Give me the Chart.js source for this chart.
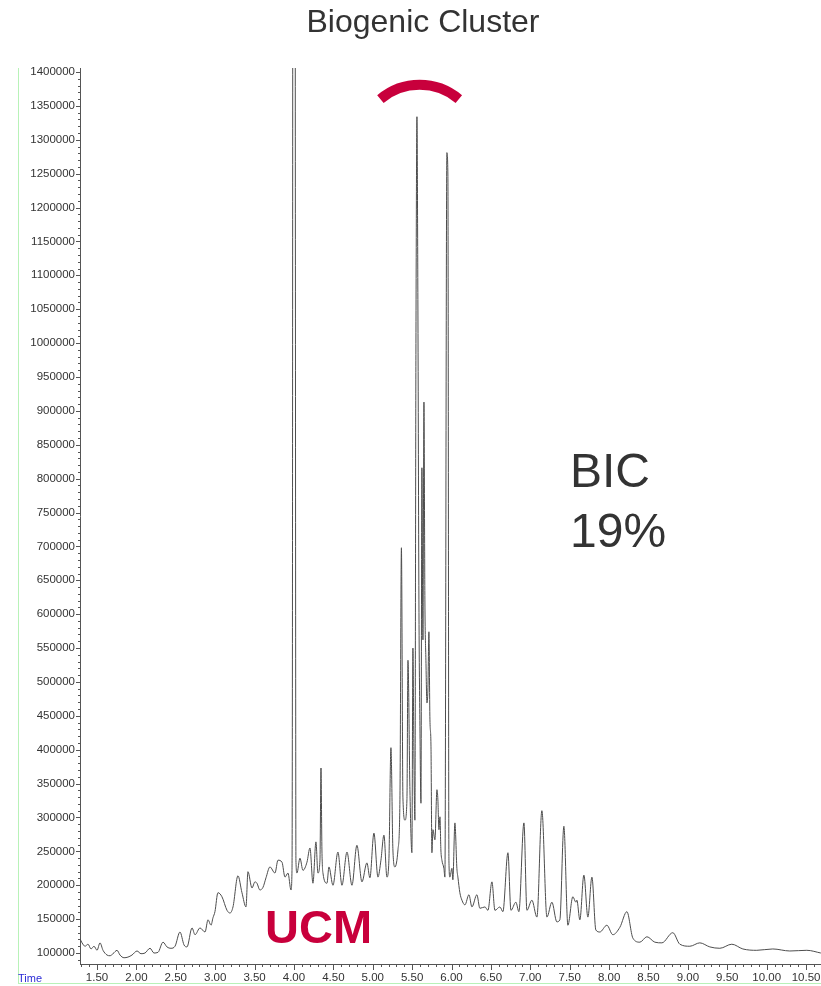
<!DOCTYPE html>
<html>
<head>
<meta charset="utf-8">
<title>Biogenic Cluster</title>
<script src="https://cdn.jsdelivr.net/npm/chart.js@4/dist/chart.umd.min.js"></script>
<style>
  html, body { margin: 0; padding: 0; background: #fff; }
  #wrap { position: relative; width: 821px; height: 986px; overflow: hidden;
          font-family: "Liberation Sans", Arial, sans-serif; }
  #frame { position: absolute; left: 18px; top: 68px; width: 803px; height: 916px;
           border-left: 1px solid #b8f2b8; border-bottom: 1px solid #b8f2b8; box-sizing: border-box; }
  canvas { position: absolute; left: 0; top: 0; }
  .txt { position: absolute; white-space: nowrap; line-height: 1; }
  #title { left: 423px; top: 5px; font-size: 32px; color: #333; transform: translateX(-50%); }
  #bic { left: 570px; top: 447px; font-size: 48px; color: #333; }
  #pct { left: 570px; top: 507px; font-size: 48px; color: #333; }
  #ucm { left: 265px; top: 903px; font-size: 47px; font-weight: bold; color: #c8003c; }
  #time { left: 18px; top: 973px; font-size: 11px; color: #2b2bd6; }
</style>
</head>
<body>
<div id="wrap">
  <div id="frame"></div>
  <canvas id="chart" width="821" height="986"></canvas>
  <div class="txt" id="title">Biogenic Cluster</div>
  <div class="txt" id="bic">BIC</div>
  <div class="txt" id="pct">19%</div>
  <div class="txt" id="ucm">UCM</div>
  <div class="txt" id="time">Time</div>
</div>
<script>
// Retention time (min)
const times = [
  1.284, 1.310, 1.348, 1.386, 1.424, 1.462, 1.500, 1.538, 1.576, 1.627,
  1.665, 1.703, 1.754, 1.792, 1.843, 1.893, 1.944, 2.008, 2.058, 2.109,
  2.173, 2.223, 2.274, 2.338, 2.388, 2.439, 2.490, 2.553, 2.604, 2.642,
  2.706, 2.744, 2.807, 2.871, 2.909, 2.947, 2.972, 2.997, 3.035, 3.086,
  3.150, 3.188, 3.226, 3.289, 3.340, 3.391, 3.416, 3.467, 3.505, 3.530,
  3.568, 3.607, 3.645, 3.695, 3.759, 3.797, 3.848, 3.886, 3.924, 3.962,
  3.975, 3.981, 3.987, 4.012, 4.025, 4.038, 4.076, 4.114, 4.165, 4.203,
  4.241, 4.279, 4.304, 4.330, 4.343, 4.355, 4.368, 4.419, 4.444, 4.495,
  4.558, 4.609, 4.673, 4.736, 4.799, 4.863, 4.926, 4.964, 5.015, 5.066,
  5.104, 5.142, 5.180, 5.205, 5.231, 5.256, 5.282, 5.320, 5.345, 5.364,
  5.383, 5.409, 5.434, 5.447, 5.472, 5.497, 5.510, 5.523, 5.535, 5.548,
  5.561, 5.573, 5.586, 5.599, 5.612, 5.624, 5.637, 5.650, 5.662, 5.675,
  5.688, 5.700, 5.713, 5.726, 5.739, 5.751, 5.764, 5.789, 5.815, 5.827,
  5.840, 5.853, 5.865, 5.878, 5.903, 5.916, 5.941, 5.954, 5.967, 5.979,
  6.005, 6.017, 6.043, 6.068, 6.081, 6.106, 6.132, 6.170, 6.221, 6.259,
  6.322, 6.360, 6.424, 6.462, 6.513, 6.551, 6.614, 6.652, 6.716, 6.754,
  6.817, 6.855, 6.919, 6.957, 7.020, 7.084, 7.147, 7.211, 7.274, 7.337,
  7.375, 7.426, 7.477, 7.540, 7.579, 7.591, 7.629, 7.680, 7.731, 7.782,
  7.832, 7.883, 7.972, 8.048, 8.137, 8.226, 8.302, 8.391, 8.480, 8.581,
  8.670, 8.809, 8.898, 9.025, 9.152, 9.279, 9.406, 9.558, 9.698, 9.875,
  10.078, 10.294, 10.510, 10.688
];

// Detector response (counts)
const intensity = [
  121000, 115000, 110000, 113000, 106000, 110000, 104000, 115000, 104000, 97000,
  96000, 99000, 104000, 97000, 93000, 94000, 97000, 103000, 99000, 100000,
  107000, 100000, 101000, 116000, 109000, 107000, 110000, 131000, 112000, 109000,
  137000, 127000, 137000, 131000, 149000, 141000, 152000, 161000, 189000, 183000,
  163000, 159000, 168000, 214000, 189000, 168000, 220000, 196000, 205000, 203000,
  193000, 197000, 211000, 227000, 218000, 237000, 234000, 212000, 218000, 193000,
  222000, 631000, 1900000, 1900000, 237000, 218000, 240000, 222000, 234000, 255000,
  203000, 264000, 218000, 237000, 373000, 252000, 218000, 203000, 227000, 200000,
  249000, 200000, 249000, 200000, 259000, 205000, 233000, 211000, 277000, 212000,
  237000, 274000, 212000, 237000, 403000, 252000, 227000, 252000, 326000, 698000,
  330000, 296000, 326000, 532000, 341000, 248000, 550000, 385000, 296000, 983000,
  1334000, 1064000, 621000, 434000, 321000, 816000, 562000, 913000, 621000, 532000,
  469000, 488000, 574000, 444000, 407000, 248000, 282000, 267000, 341000, 326000,
  282000, 301000, 252000, 237000, 225000, 212000, 1281000, 1248000, 237000, 212000,
  225000, 208000, 292000, 225000, 212000, 189000, 178000, 171000, 186000, 168000,
  186000, 166000, 168000, 163000, 205000, 163000, 168000, 161000, 248000, 163000,
  175000, 161000, 292000, 163000, 178000, 153000, 310000, 153000, 175000, 146000,
  149000, 287000, 141000, 183000, 175000, 178000, 149000, 215000, 153000, 212000,
  134000, 131000, 141000, 127000, 138000, 161000, 122000, 116000, 124000, 116000,
  115000, 130000, 113000, 110000, 115000, 109000, 107000, 113000, 106000, 104000,
  106000, 103000, 104000, 100000
];

// Axis extents and tick spacing
const timeRange = [1.284, 10.69];
const countRange = [83800, 1405900];
const timeLabelStep = 0.5;
const timeMinorStep = 0.1;
const countLabelStep = 50000;
const countMinorStep = 10000;

// Highlight arc over the biogenic peak cluster (centre in data units)
const clusterArc = { t: 5.595, v: 1291000 };

const points = times.map((t, i) => ({ x: t, y: intensity[i] }));

const FONT = '"Liberation Sans", Arial, sans-serif';
const AXIS = '#555';

// ticks on round multiples of the step, inside the axis range
function steppedTicks(scale, step) {
  const out = [];
  const first = Math.ceil(scale.min / step - 1e-9);
  const last = Math.floor(scale.max / step + 1e-9);
  for (let i = first; i <= last; i++) out.push({ value: +(i * step).toFixed(6) });
  scale.ticks = out;
}

const axisTicks = {
  id: 'axisTicks',
  afterDraw(chart) {
    const { ctx, chartArea, scales: { x, y } } = chart;
    ctx.save();
    ctx.strokeStyle = AXIS;
    ctx.lineWidth = 1;
    ctx.beginPath();
    const per = Math.round(timeLabelStep / timeMinorStep);
    for (let i = Math.ceil(x.min / timeMinorStep); i <= Math.floor(x.max / timeMinorStep); i++) {
      const px = Math.round(x.getPixelForValue(i * timeMinorStep)) + 0.5;
      const len = (i % per === 0) ? 6 : 3;
      ctx.moveTo(px, chartArea.bottom);
      ctx.lineTo(px, chartArea.bottom + len);
    }
    const perY = Math.round(countLabelStep / countMinorStep);
    for (let j = Math.ceil(y.min / countMinorStep); j <= Math.floor(y.max / countMinorStep); j++) {
      const py = Math.round(y.getPixelForValue(j * countMinorStep)) + 0.5;
      const len = (j % perY === 0) ? 4 : 2;
      ctx.moveTo(chartArea.left, py);
      ctx.lineTo(chartArea.left - len, py);
    }
    ctx.stroke();

    // cluster highlight arc
    const cx = x.getPixelForValue(clusterArc.t);
    const cy = y.getPixelForValue(clusterArc.v);
    ctx.beginPath();
    ctx.strokeStyle = '#c8003c';
    ctx.lineWidth = 10;
    ctx.lineCap = 'butt';
    ctx.arc(cx, cy, 61, -130 * Math.PI / 180, -50 * Math.PI / 180);
    ctx.stroke();
    ctx.restore();
  }
};

new Chart(document.getElementById('chart'), {
  type: 'line',
  data: {
    datasets: [{
      data: points,
      borderColor: '#4d4d4d',
      borderWidth: 1,
      pointRadius: 0,
      cubicInterpolationMode: 'monotone',
      fill: false
    }]
  },
  options: {
    responsive: false,
    animation: false,
    events: [],
    layout: { padding: { top: 68, left: 0, right: 0, bottom: 0 } },
    plugins: { legend: { display: false }, tooltip: { enabled: false }, title: { display: false } },
    scales: {
      x: {
        type: 'linear',
        min: timeRange[0],
        max: timeRange[1],
        grid: { display: false, drawTicks: false, tickLength: 0 },
        border: { display: true, color: AXIS, width: 1 },
        afterBuildTicks(s) { steppedTicks(s, timeLabelStep); },
        afterFit(s) { s.height = 22; s.paddingLeft = 0; s.paddingRight = 0; },
        ticks: {
          autoSkip: false,
          maxRotation: 0,
          minRotation: 0,
          padding: 7,
          color: '#333',
          font: { family: FONT, size: 11.5 },
          callback: v => Number(v).toFixed(2)
        }
      },
      y: {
        type: 'linear',
        min: countRange[0],
        max: countRange[1],
        grid: { display: false, drawTicks: false, tickLength: 0 },
        border: { display: true, color: AXIS, width: 1 },
        afterBuildTicks(s) { steppedTicks(s, countLabelStep); },
        afterFit(s) { s.width = 80; s.paddingTop = 0; s.paddingBottom = 0; },
        ticks: {
          autoSkip: false,
          padding: 5,
          color: '#333',
          font: { family: FONT, size: 11.5 },
          callback: v => String(v)
        }
      }
    }
  },
  plugins: [axisTicks]
});
</script>
</body>
</html>
